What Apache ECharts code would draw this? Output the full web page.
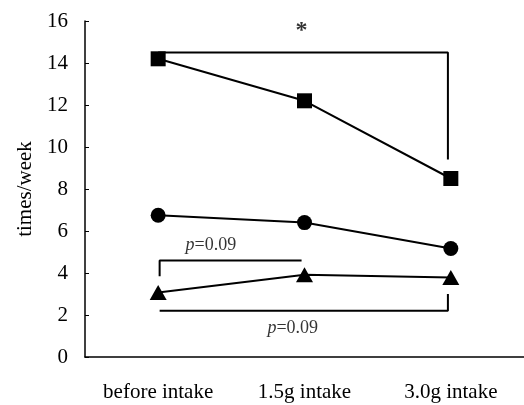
<!DOCTYPE html>
<html>
<head>
<meta charset="utf-8">
<script src="https://cdn.jsdelivr.net/npm/echarts@6/dist/echarts.min.js"></script>
<style>
  html, body { margin: 0; padding: 0; background: #fff; }
  #chart { width: 524px; height: 405px; }
</style>
</head>
<body>
<div id="chart"></div>
<script>
const categories = ['before intake', '1.5g intake', '3.0g intake']
const squareValues = [14.2, 12.2, 8.5]
const circleValues = [6.75, 6.4, 5.17]
const triangleValues = [3.07, 3.92, 3.78]

// significance brackets, x in category units (0 = first category)
const starBracket = [[0, 14.5], [1.98, 14.5], [1.98, 9.4]]
const upperBracket = [[0.01, 3.85], [0.01, 4.6], [0.98, 4.6]]
const lowerBracket = [[0.01, 2.2], [1.98, 2.2], [1.98, 3.0]]
const notes = [
  { pos: [0.98, 15.55], text: '{s|*}' },
  { pos: [0.36, 5.33], text: '{i|p}=0.09' },
  { pos: [0.92, 1.39], text: '{i|p}=0.09' }
]

const font = 'Liberation Serif'
const chart = echarts.init(document.getElementById('chart'))

const lineSeries = (values, symbol, size) => ({
  type: 'line',
  data: values,
  symbol: symbol,
  symbolSize: size,
  lineStyle: { color: '#000', width: 2 },
  itemStyle: { color: '#000' },
  z: 5
})

const bracketSeries = (points) => ({
  type: 'line',
  xAxisIndex: 1,
  data: points,
  symbol: 'none',
  lineStyle: { color: '#000', width: 2 },
  z: 3
})

chart.setOption({
  animation: false,
  grid: { left: 85, top: 21, width: 442, height: 336 },
  xAxis: [
    {
      type: 'category',
      data: categories,
      boundaryGap: true,
      axisLine: { lineStyle: { color: '#000', width: 1.5 } },
      axisTick: { inside: true, length: 4, lineStyle: { color: '#000' } },
      axisLabel: { color: '#000', fontFamily: font, fontSize: 21, margin: 25 }
    },
    { type: 'value', min: -0.5, max: 2.5, show: false }
  ],
  yAxis: {
    type: 'value',
    min: 0,
    max: 16,
    interval: 2,
    name: 'times/week',
    nameLocation: 'middle',
    nameGap: 49,
    nameTextStyle: { color: '#000', fontFamily: font, fontSize: 21 },
    splitLine: { show: false },
    axisLine: { show: true, onZero: false, lineStyle: { color: '#000', width: 1.5 } },
    axisTick: { show: true, inside: true, length: 4, lineStyle: { color: '#000' } },
    axisLabel: { color: '#000', fontFamily: font, fontSize: 21, margin: 17 }
  },
  series: [
    bracketSeries(starBracket),
    bracketSeries(upperBracket),
    bracketSeries(lowerBracket),
    lineSeries(squareValues, 'rect', 15),
    lineSeries(circleValues, 'circle', 15),
    lineSeries(triangleValues, 'triangle', [17, 15]),
    {
      type: 'scatter',
      xAxisIndex: 1,
      symbolSize: 0,
      data: notes.map(n => ({ value: n.pos, text: n.text })),
      label: {
        show: true,
        position: 'inside',
        formatter: p => p.data.text,
        color: '#000',
        fontFamily: font,
        fontSize: 18,
        rich: {
          i: { fontStyle: 'italic', fontFamily: font, fontSize: 18, color: '#000' },
          s: { fontWeight: 'bold', fontFamily: font, fontSize: 24, color: '#000' }
        }
      }
    }
  ]
})
</script>
</body>
</html>
